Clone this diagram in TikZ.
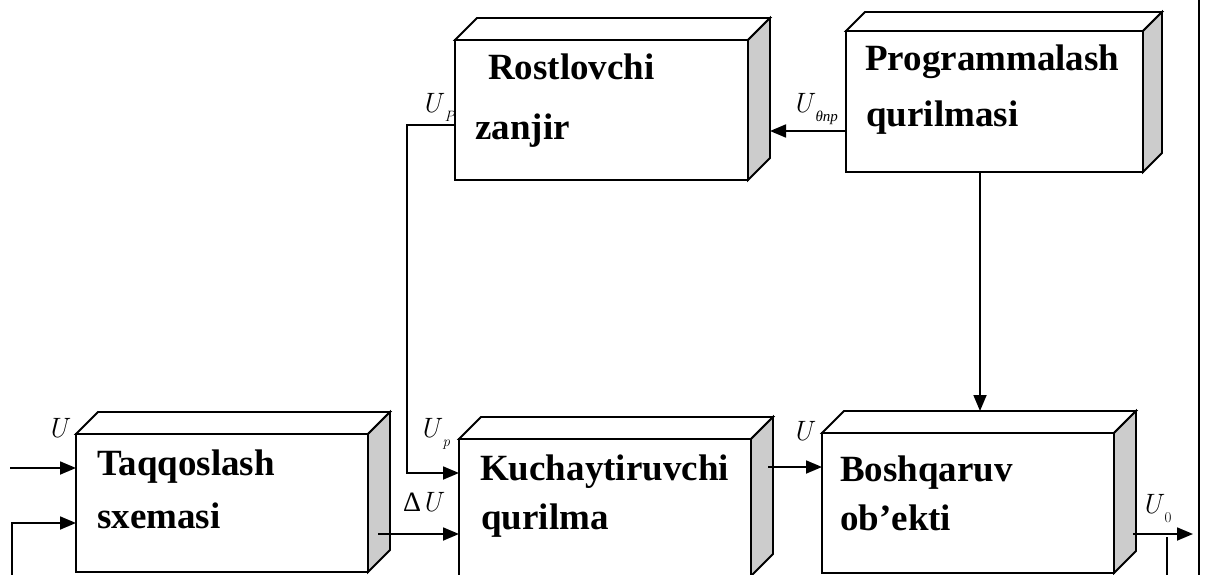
\documentclass[tikz,border=0pt]{standalone}
\usepackage{fontspec}
\newfontfamily\boxfont{Liberation Serif}
\usetikzlibrary{arrows.meta,calc}
\tikzset{
  box/.style={draw, line width=1.8pt, fill=white, anchor=north west, inner sep=0pt, outer sep=0pt},
  face/.style={draw, line width=1.8pt, line join=miter},
  sideface/.style={face, fill=black!20},
  lbl/.style={font=\boxfont\bfseries\fontsize{37}{40}\selectfont, anchor=base west, inner sep=0pt},
  mlbl/.style={font=\itshape\fontsize{28}{30}\selectfont, anchor=base west, inner sep=0pt},
  conn/.style={line width=1.8pt, -{Triangle[length=16pt,width=13pt]}},
  wire/.style={line width=1.8pt},
}
\newcommand\boxdepth[2]{%
  \draw[face, fill=white] (#1.north west) -- ++(#2,-#2) -- ($(#1.north east)+(#2,-#2)$) -- (#1.north east) -- cycle;
  \draw[sideface] (#1.north east) -- ($(#1.north east)+(#2,-#2)$) -- ($(#1.south east)+(#2,-#2)$) -- (#1.south east) -- cycle;
}
\newcommand\sub[1]{\hspace{3pt}\raisebox{-9pt}{\fontsize{15}{15}\selectfont#1}}
\begin{document}
\begin{tikzpicture}[x=1pt,y=-1pt]
\useasboundingbox (0,0) rectangle (1205,575);
% label hidden partly by box R
\node[mlbl] (lUP) at (421,113) {U\sub{P}};
% boxes
\node[box, minimum width=293pt, minimum height=140pt] (R) at (455,40) {};
\boxdepth{R}{22}
\node[box, minimum width=297pt, minimum height=141pt] (P) at (846,31) {};
\boxdepth{P}{19}
\node[box, minimum width=292pt, minimum height=138pt] (T) at (76,434) {};
\boxdepth{T}{22}
\node[box, minimum width=292pt, minimum height=137pt] (K) at (459,439) {};
\boxdepth{K}{22}
\node[box, minimum width=292pt, minimum height=140pt] (B) at (822,433) {};
\boxdepth{B}{22}
% box texts
\node[lbl] (tR1) at (488,80) {Rostlovchi};
\node[lbl] (tR2) at (475,140) {zanjir};
\node[lbl] (tP1) at (865,71) {Programmalash};
\node[lbl] (tP2) at (866,127) {qurilmasi};
\node[lbl] (tT1) at (97,475) {Taqqoslash};
\node[lbl] (tT2) at (97,528) {sxemasi};
\node[lbl] (tK1) at (480,480) {Kuchaytiruvchi};
\node[lbl] (tK2) at (481,529) {qurilma};
\node[lbl] (tB1) at (840,481) {Boshqaruv};
\node[lbl] (tB2) at (840,530) {ob’ekti};
% coordinates
\coordinate (in1) at (10,468);
\coordinate (fbin) at (0,523);
\coordinate (fb) at (1167,537);
\coordinate (upy) at (0,125);
\coordinate (upin) at (0,473);
\coordinate (dus) at (378,534);
\coordinate (kbs) at (768,467);
\coordinate (prs) at (0,131);
\coordinate (pre) at (770,131);
\coordinate (pbx) at (980,0);
\coordinate (btop) at (980,411);
\coordinate (outs) at (1133,534);
\coordinate (oute) at (1193,534);
% connectors
\draw[conn] (in1) -- (T.west |- in1);
\draw[conn] (fb) -- (1167,620) -| (12,523) -- (T.west |- fbin);
\draw[conn] (dus) -- (K.west |- dus);
\draw[conn] (R.west |- upy) -| (407,473) -- (K.west |- upin);
\draw[conn] (kbs) -- (B.west |- kbs);
\draw[conn] (P.west |- prs) -- (pre);
\draw[conn] (P.south -| pbx) -- (btop);
\draw[conn] (outs) -- (oute);
\draw[wire] (1199,0) -- (1199,575);
% signal labels
\node[mlbl] (lU1) at (47,437) {U};
\node[mlbl] (lUp) at (419,437) {U\sub{p}};
\node[mlbl] (ldU) at (403,511) {{\boxfont\upshape Δ}U};
\node[mlbl] (lUB) at (792,440) {U};
\node[mlbl] (lUth) at (792,113) {U\sub{\boxfont θnp}};
\node[mlbl] (lU0) at (1141,513) {U\sub{\upshape 0}};
\end{tikzpicture}
\end{document}
